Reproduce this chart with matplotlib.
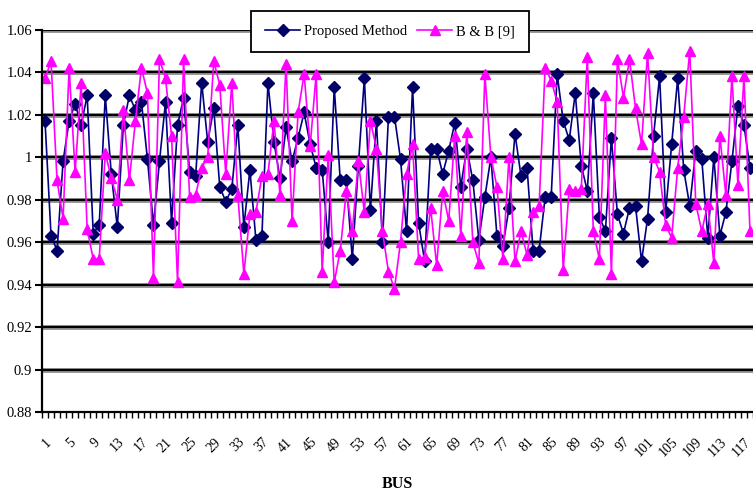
import matplotlib
matplotlib.use("Agg")
import matplotlib.pyplot as plt
import numpy as np

buses = list(range(1, 119))
proposed = [1.017, 0.963, 0.956, 0.998, 1.017, 1.025, 1.015, 1.029, 0.964, 0.968,
            1.029, 0.992, 0.967, 1.015, 1.029, 1.022, 1.026, 0.999, 0.968, 0.998,
            1.026, 0.969, 1.015, 1.028, 0.993, 0.991, 1.035, 1.007, 1.023, 0.986,
            0.979, 0.985, 1.015, 0.967, 0.994, 0.961, 0.963, 1.035, 1.007, 0.990,
            1.014, 0.998, 1.009, 1.021, 1.006, 0.995, 0.994, 0.960, 1.033, 0.989,
            0.989, 0.952, 0.996, 1.037, 0.975, 1.017, 0.960, 1.019, 1.019, 0.999,
            0.965, 1.033, 0.969, 0.951, 1.004, 1.004, 0.992, 1.003, 1.016, 0.986,
            1.004, 0.989, 0.961, 0.981, 1.000, 0.963, 0.958, 0.976, 1.011, 0.991,
            0.995, 0.956, 0.956, 0.981, 0.981, 1.039, 1.017, 1.008, 1.030, 0.996,
            0.984, 1.030, 0.972, 0.965, 1.009, 0.973, 0.964, 0.976, 0.977, 0.951,
            0.971, 1.010, 1.038, 0.974, 1.006, 1.037, 0.994, 0.977, 1.003, 0.999,
            0.962, 1.000, 0.963, 0.974, 0.998, 1.024, 1.015, 0.995]
bb9 = [1.037, 1.045, 0.989, 0.971, 1.042, 0.993, 1.035, 0.966, 0.952, 0.952,
       1.002, 0.990, 0.980, 1.022, 0.989, 1.017, 1.042, 1.030, 0.943, 1.046,
       1.037, 1.010, 0.941, 1.046, 0.981, 0.982, 0.995, 1.000, 1.045, 1.034,
       0.992, 1.035, 0.982, 0.945, 0.973, 0.974, 0.991, 0.992, 1.017, 0.982,
       1.044, 0.970, 1.021, 1.039, 1.005, 1.039, 0.946, 1.001, 0.941, 0.956,
       0.984, 0.965, 0.998, 0.974, 1.017, 1.004, 0.965, 0.946, 0.938, 0.960,
       0.992, 1.006, 0.952, 0.953, 0.976, 0.949, 0.984, 0.970, 1.010, 0.963,
       1.012, 0.960, 0.950, 1.039, 1.000, 0.986, 0.952, 1.000, 0.951, 0.965,
       0.954, 0.974, 0.977, 1.042, 1.036, 1.026, 0.947, 0.985, 0.984, 0.985,
       1.047, 0.965, 0.952, 1.029, 0.945, 1.046, 1.028, 1.046, 1.023, 1.006,
       1.049, 1.000, 0.993, 0.968, 0.962, 0.995, 1.019, 1.050, 0.978, 0.965,
       0.978, 0.950, 1.010, 0.982, 1.038, 0.987, 1.038, 0.965]
yticks = [0.88, 0.90, 0.92, 0.94, 0.96, 0.98, 1.00, 1.02, 1.04, 1.06]
ytick_labels = ["0.88", "0.9", "0.92", "0.94", "0.96", "0.98", "1", "1.02", "1.04", "1.06"]
xtick_pos = list(range(1, 119, 4))
series_names = ["Proposed Method", "B & B [9]"]

plt.rcParams['font.family'] = ['Liberation Serif', 'DejaVu Serif']

fig = plt.figure(figsize=(7.53, 4.91), dpi=100)
ax = fig.add_axes([42 / 753, 1 - 412 / 491, 1 - 42 / 753, (412 - 29.5) / 491])

for v in yticks[1:]:
    ax.axhline(v, color='#9a9a9a', lw=3.6, zorder=1)
    ax.axhline(v, color='black', lw=1.6, zorder=1.5)

ax.plot(buses, proposed, color='#000080', lw=1.2, marker='D', markersize=6.5,
        markerfacecolor='#000066', markeredgecolor='#000066', label=series_names[0], zorder=3)
ax.plot(buses, bb9, color='#FF00FF', lw=1.2, marker='^', markersize=7.5,
        markerfacecolor='#FF00FF', markeredgecolor='#FF00FF', label=series_names[1], zorder=4)

ax.set_xlim(0.5, 118.2)
ax.set_ylim(0.88, 1.06)
ax.set_yticks(yticks)
ax.set_yticklabels(ytick_labels, fontsize=10.5)
ax.set_xticks(xtick_pos)
ax.set_xticklabels([str(b) for b in xtick_pos], rotation=45, ha='right', va='top',
                   rotation_mode='anchor', fontsize=10)
ax.set_xticks(np.arange(0.5, 119, 1.0), minor=True)
ax.tick_params(axis='x', which='major', length=0, pad=17)
ax.tick_params(axis='x', which='minor', length=4, width=1.0, direction='out', color='black')
ax.tick_params(axis='y', which='major', length=5, width=1.5, direction='out', pad=2)

for s in ['top', 'right']:
    ax.spines[s].set_visible(False)
ax.spines['left'].set_linewidth(1.6)
ax.spines['bottom'].set_linewidth(1.6)
ax.spines['left'].set_zorder(5)
ax.spines['bottom'].set_zorder(5)

ax.set_xlabel("BUS", fontsize=11.5, fontweight='bold', labelpad=12)

leg = fig.legend(loc='center', bbox_to_anchor=(390 / 753, 1 - 31.5 / 491), ncol=2,
                 fontsize=10.5, frameon=True, fancybox=False, handlelength=2.4,
                 columnspacing=0.7, handletextpad=0.25, borderpad=0.95, borderaxespad=0)
leg.get_frame().set_edgecolor('black')
leg.get_frame().set_linewidth(1.3)
leg.get_frame().set_facecolor('white')
leg.get_frame().set_alpha(1)
leg.set_zorder(10)

fig.savefig("out.png", dpi=100)
